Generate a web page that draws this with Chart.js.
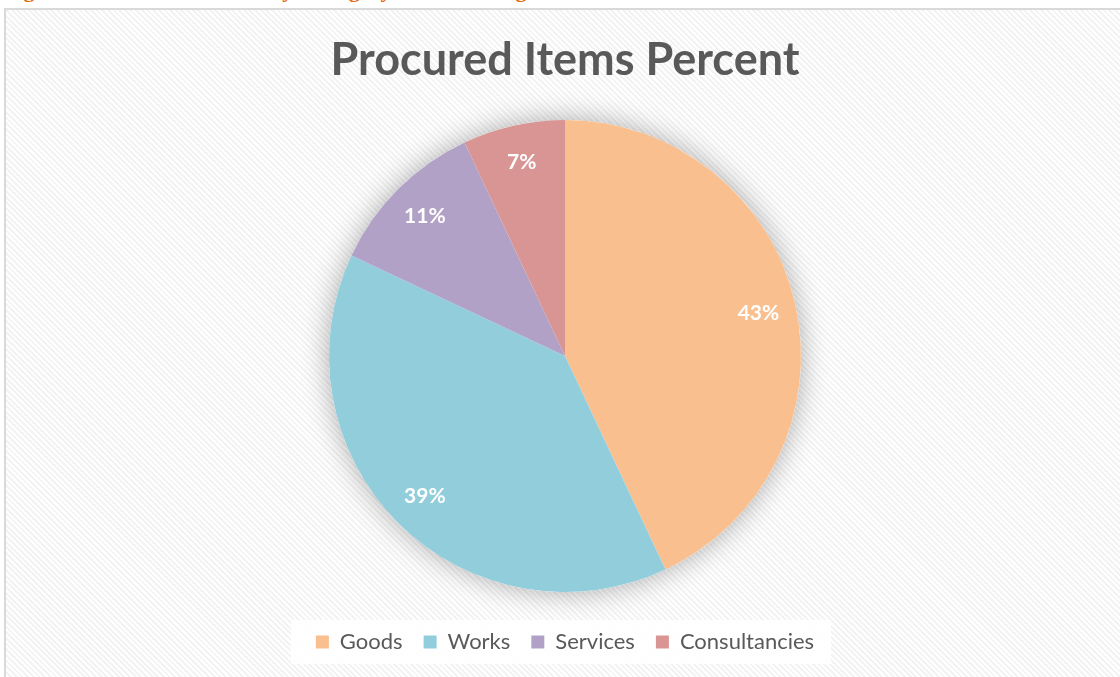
<!DOCTYPE html>
<html>
<head>
<meta charset="utf-8">
<script src="https://cdn.jsdelivr.net/npm/chart.js@4/dist/chart.umd.min.js"></script>
<style>
  html, body { margin: 0; padding: 0; background: #fff; overflow: hidden; }
  body { width: 1120px; height: 677px; position: relative; }
  #caption {
    position: absolute; left: 4px; top: -21px; white-space: nowrap;
    font: bold 22px "Liberation Serif", serif; line-height: 1; color: #e36c0a;
    word-spacing: 6px;
  }
  #frame {
    position: absolute; left: 4px; top: 8px; width: 1140px; height: 700px;
    border: 2px solid #d9d9d9;
    background: repeating-linear-gradient(45deg, #ffffff 0px, #ffffff 2px, #f3f3f3 2px, #f3f3f3 4px);
  }
  #wrap { position: absolute; left: 0; top: 0; width: 1118px; height: 667px; }
</style>
</head>
<body>
<div id="caption">Figure 2: Procured Items by Category in Percentage</div>
<div id="frame">
  <div id="wrap"><canvas id="pie"></canvas></div>
</div>
<script>
// chart data
const categories = ['Goods', 'Works', 'Services', 'Consultancies'];
const percents = [43, 39, 11, 7];
const sliceColors = ['#f9bf8f', '#92cddc', '#b2a1c7', '#d99594'];

// soft glow behind the pie
const pieShadow = {
    id: 'pieShadow',
    beforeDatasetsDraw(chart) {
        const arc = chart.getDatasetMeta(0).data[0];
        if (!arc) return;
        const ctx = chart.ctx;
        ctx.save();
        ctx.shadowColor = 'rgba(0,0,0,0.32)';
        ctx.shadowBlur = 28;
        ctx.fillStyle = '#ffffff';
        ctx.beginPath();
        ctx.arc(arc.x, arc.y, arc.outerRadius, 0, Math.PI * 2);
        ctx.fill();
        ctx.restore();
    }
};

// white box behind the legend
const legendBox = {
    id: 'legendBox',
    beforeDraw(chart) {
        const boxes = chart.legend.legendHitBoxes;
        if (!boxes || !boxes.length) return;
        var left = boxes[0].left, right = 0, top = boxes[0].top, bottom = 0;
        boxes.forEach(function (b) {
            left = Math.min(left, b.left);
            right = Math.max(right, b.left + b.width);
            top = Math.min(top, b.top);
            bottom = Math.max(bottom, b.top + b.height);
        });
        const ctx = chart.ctx;
        ctx.save();
        ctx.fillStyle = 'rgba(255,255,255,0.9)';
        ctx.fillRect(left - 25, top - 11, right - left + 42, bottom - top + 22);
        ctx.restore();
    }
};

// percent labels inside the slices
const sliceLabels = {
    id: 'sliceLabels',
    afterDatasetsDraw(chart) {
        const ctx = chart.ctx;
        const meta = chart.getDatasetMeta(0);
        ctx.save();
        ctx.fillStyle = '#ffffff';
        ctx.font = 'bold 21px Lato';
        ctx.textAlign = 'center';
        ctx.textBaseline = 'middle';
        meta.data.forEach(function (arc, i) {
            const mid = (arc.startAngle + arc.endAngle) / 2;
            const r = arc.outerRadius * 0.84;
            ctx.fillText(percents[i] + '%', arc.x + Math.cos(mid) * r, arc.y + Math.sin(mid) * r);
        });
        ctx.restore();
    }
};

const ctx = document.getElementById('pie').getContext('2d');
const pieChart = new Chart(ctx, {
    type: 'pie',
    data: {
        labels: categories,
        datasets: [{
            data: percents,
            backgroundColor: sliceColors,
            borderWidth: 0,
            radius: 236
        }]
    },
    options: {
        responsive: true,
        maintainAspectRatio: false,
        animation: false,
        layout: { padding: { top: 0, bottom: 14, left: 0, right: 0 } },
        plugins: {
            title: {
                display: true,
                text: 'Procured Items Percent',
                color: '#595959',
                font: { family: 'Lato', size: 45, weight: 'bold' },
                padding: { top: 23, bottom: 15 }
            },
            legend: {
                position: 'bottom',
                labels: {
                    color: '#595959',
                    font: { family: 'Lato', size: 22 },
                    boxWidth: 13,
                    boxHeight: 13,
                    padding: 21
                }
            },
            tooltip: { enabled: false }
        }
    },
    plugins: [legendBox, pieShadow, sliceLabels]
});
</script>
</body>
</html>
